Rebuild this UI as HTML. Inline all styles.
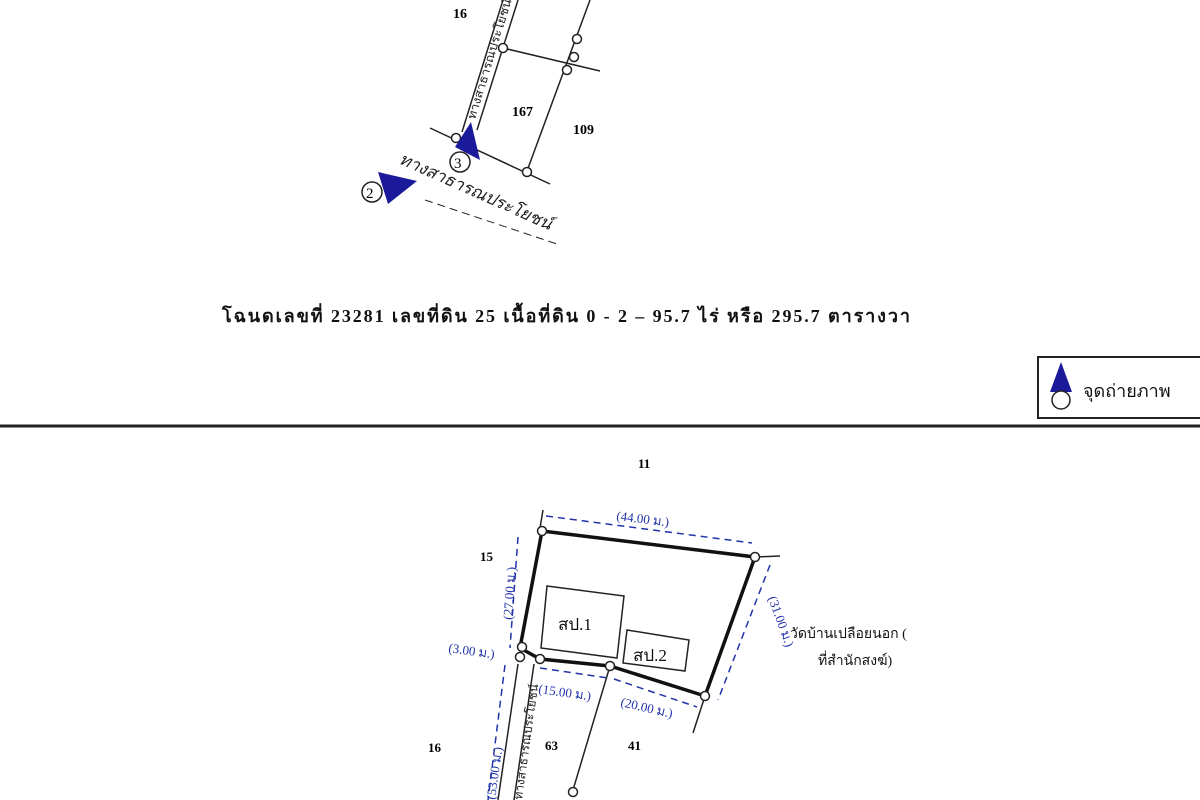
<!DOCTYPE html>
<html><head><meta charset="utf-8"><style>
html,body{margin:0;padding:0;background:#fff;width:1200px;height:800px;overflow:hidden}
svg text{font-family:"Liberation Serif","Noto Serif CJK SC","Noto Sans CJK SC",serif}
</style></head><body>
<svg width="1200" height="800" viewBox="0 0 1200 800" xmlns="http://www.w3.org/2000/svg">
<g stroke="#222" fill="none" stroke-width="1.5">
<line x1="503" y1="0" x2="462" y2="132"/>
<line x1="518" y1="0" x2="477" y2="130"/>
<line x1="503" y1="48" x2="600" y2="71"/>
<line x1="590" y1="0" x2="527" y2="171"/>
<line x1="430" y1="128" x2="550" y2="184"/>
</g>
<g fill="#fff" stroke="#222" stroke-width="1.5">
<circle cx="503" cy="48" r="4.5"/><circle cx="577" cy="39" r="4.5"/><circle cx="574" cy="57" r="4.5"/><circle cx="567" cy="70" r="4.5"/>
<circle cx="527" cy="172" r="4.5"/><circle cx="456" cy="138" r="4.5"/>
</g>
<text transform="translate(475,120) rotate(-73)" font-size="12" fill="#222" textLength="125" lengthAdjust="spacingAndGlyphs">ทางสาธารณประโยชน์</text>
<text transform="translate(398,163) rotate(24)" font-size="17" fill="#222" font-style="italic">ทางสาธารณประโยชน์</text>
<line x1="425" y1="200" x2="560" y2="245" stroke="#222" stroke-dasharray="8,5"/>
<text x="453" y="18" font-size="14" font-weight="bold">16</text>
<text x="512" y="116" font-size="14" font-weight="bold">167</text>
<text x="573" y="134" font-size="14" font-weight="bold">109</text>
<polygon points="471,122 480,160 455,147" fill="#1a1a9a"/>
<circle cx="460" cy="162" r="10" fill="#fff" stroke="#222" stroke-width="1.5"/>
<text x="454" y="168" font-size="15" font-family="Liberation Sans">3</text>
<polygon points="378,172 417,181 388,204" fill="#1a1a9a"/>
<circle cx="372" cy="192" r="10" fill="#fff" stroke="#222" stroke-width="1.5"/>
<text x="366" y="198" font-size="15" font-family="Liberation Sans">2</text>
<text x="222" y="322" font-size="18" font-weight="bold" fill="#111" textLength="688" lengthAdjust="spacing">โฉนดเลขที่ 23281  เลขที่ดิน 25  เนื้อที่ดิน 0 - 2 – 95.7   ไร่ หรือ 295.7 ตารางวา</text>
<rect x="1038" y="357" width="170" height="61" fill="#fff" stroke="#222" stroke-width="2"/>
<polygon points="1061,362 1072,392 1050,392" fill="#1a1a9a"/>
<circle cx="1061" cy="400" r="9" fill="#fff" stroke="#222" stroke-width="1.5"/>
<text x="1083" y="397" font-size="18" fill="#111">จุดถ่ายภาพ</text>
<line x1="0" y1="426" x2="1200" y2="426" stroke="#222" stroke-width="3"/>
<text x="638" y="468" font-size="13" font-weight="bold">11</text>
<text x="480" y="561" font-size="13" font-weight="bold">15</text>
<text x="428" y="752" font-size="13" font-weight="bold">16</text>
<text x="545" y="750" font-size="13" font-weight="bold">63</text>
<text x="628" y="750" font-size="13" font-weight="bold">41</text>
<g stroke="#222" fill="none" stroke-width="1.5">
<line x1="518" y1="664" x2="498" y2="800"/>
<line x1="534" y1="664" x2="514" y2="800"/>
<line x1="610" y1="666" x2="573" y2="790"/>
<line x1="755" y1="557" x2="780" y2="556"/>
<line x1="705" y1="696" x2="693" y2="733"/>
<line x1="540" y1="528" x2="543" y2="510"/>
<polygon points="547,586 624,596 617,658 541,648"/>
<polygon points="627,630 689,640 685,671 623,663"/>
</g>
<polygon points="542,531 755,557 705,696 610,666 540,659 520,648" fill="none" stroke="#111" stroke-width="3.5"/>
<g fill="#fff" stroke="#222" stroke-width="1.5">
<circle cx="542" cy="531" r="4.5"/><circle cx="755" cy="557" r="4.5"/><circle cx="705" cy="696" r="4.5"/>
<circle cx="610" cy="666" r="4.5"/><circle cx="540" cy="659" r="4.5"/><circle cx="522" cy="647" r="4.5"/><circle cx="520" cy="657" r="4.5"/>
<circle cx="573" cy="792" r="4.5"/>
</g>
<text x="558" y="630" font-size="17" fill="#111">สป.1</text>
<text x="633" y="661" font-size="17" fill="#111">สป.2</text>
<g stroke="#2233aa" fill="none" stroke-width="1.5" stroke-dasharray="7,5">
<line x1="546" y1="516" x2="752" y2="543"/>
<line x1="518" y1="537" x2="510" y2="648"/>
<line x1="770" y1="565" x2="718" y2="700"/>
<line x1="540" y1="668" x2="608" y2="678"/>
<line x1="614" y1="679" x2="697" y2="707"/>
<line x1="505" y1="665" x2="488" y2="800"/>
</g>
<g fill="#2233aa" font-family="Liberation Serif" font-size="13">
<text x="616" y="520" transform="rotate(7 616 520)">(44.00 ม.)</text>
<text transform="translate(512,620) rotate(-86)">(27.00 ม.)</text>
<text transform="translate(768,598) rotate(70)">(31.00 ม.)</text>
<text x="448" y="652" transform="rotate(8 448 652)">(3.00 ม.)</text>
<text x="538" y="693" transform="rotate(8 538 693)">(15.00 ม.)</text>
<text x="620" y="706" transform="rotate(13 620 706)">(20.00 ม.)</text>
<text transform="translate(495,800) rotate(-82)">(53.00 ม.)</text>
</g>
<text transform="translate(522,800) rotate(-82)" font-size="12" fill="#222">ทางสาธารณประโยชน์</text>
<text x="790" y="638" font-size="14" fill="#111">วัดบ้านเปลือยนอก (</text>
<text x="818" y="665" font-size="14" fill="#111">ที่สำนักสงฆ์)</text>
</svg>
</body></html>
